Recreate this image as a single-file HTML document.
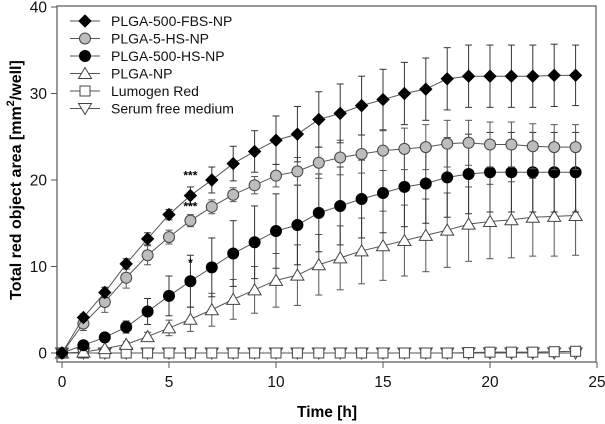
<!DOCTYPE html>
<html><head><meta charset="utf-8"><style>
body{margin:0;background:#fff}
svg{display:block;font-family:"Liberation Sans",Arial,sans-serif}
</style></head><body>
<svg id="c" width="605" height="424"></svg>
<script>
const times=[0,1,2,3,4,5,6,7,8,9,10,11,12,13,14,15,16,17,18,19,20,21,22,23,24];
const fbs=[0,4.1,7,10.3,13.2,16,18.2,20,21.9,23.3,24.6,25.3,27,27.7,28.6,29.3,30,30.5,31.7,32,32,32,32,32.1,32.1];
const fbsErr=[0,0.4,0.6,0.6,0.7,0.6,1,1.5,2,2.4,2.8,3.2,3.2,3.4,3.4,3.5,3.6,3.6,3.6,3.6,3.6,3.6,3.6,3.6,3.5];
const hs5=[0,3.4,5.9,8.7,11.3,13.4,15.3,16.9,18.3,19.4,20.5,21,22,22.6,23,23.4,23.6,23.8,24.2,24.3,24.1,24.1,23.9,23.8,23.8];
const hs5Err=[0,0.8,1.2,1.2,1.1,0.8,0.7,0.8,0.8,1,1.3,1.6,1.8,2,2.2,2.3,2.4,2.6,2.7,2.6,2.6,2.6,2.6,2.6,2.6];
const hs500=[0,0.9,1.8,3,4.8,6.6,8.3,9.9,11.5,12.8,14.1,14.8,16.2,17,17.8,18.5,19.2,19.6,20.3,20.7,20.9,20.9,20.9,20.9,20.9];
const hs500Err=[0,0.3,0.5,0.7,1.5,2.3,3,3.4,3.8,4.2,4.3,4.6,4.5,4.5,4.5,4.6,4.6,4.6,4.6,4.6,4.6,4.6,4.6,4.6,4.6];
const plga=[0,0.1,0.5,1,1.9,2.9,3.9,5,6.2,7.3,8.4,9,10.2,11,11.8,12.4,13,13.6,14.2,14.9,15.2,15.4,15.7,15.8,15.9];
const plgaErr=[0,0.1,0.2,0.3,0.5,0.9,1.4,1.9,2.3,2.7,3.1,3.5,3.5,3.7,3.8,4,4.1,4.2,4.3,4.3,4.3,4.4,4.5,4.6,4.6];
const lumo=[0,0,0,0,0,0,0,0,0,0,0,0,0,0,0,0,0,0,0,0.05,0.1,0.1,0.1,0.15,0.2];
const serum=[0,0,0,0,0,0,0,0,0,0,0,0,0,0,0,0,0,0,0,0,0,0,0,0,0];
const xTicks=[0,5,10,15,20,25];
const yTicks=[0,10,20,30,40];
const legendNames=["PLGA-500-FBS-NP","PLGA-5-HS-NP","PLGA-500-HS-NP","PLGA-NP","Lumogen Red","Serum free medium"];

const NS="http://www.w3.org/2000/svg";
const svg=document.getElementById('c');
const X=v=>62+v*21.4;
const Y=v=>353-v*8.65;
function mk(t,a,p){const e=document.createElementNS(NS,t);for(const k in a)e.setAttribute(k,a[k]);(p||svg).appendChild(e);return e;}
function marker(kind,x,y,g){
  if(kind==='diamond')return mk('polygon',{points:`${x},${y-6} ${x+6},${y} ${x},${y+6} ${x-6},${y}`,fill:'#000',stroke:'#000'},g);
  if(kind==='grey')return mk('circle',{cx:x,cy:y,r:5.5,fill:'#bdbdbd',stroke:'#444'},g);
  if(kind==='black')return mk('circle',{cx:x,cy:y,r:5.5,fill:'#000',stroke:'#000'},g);
  if(kind==='tri')return mk('polygon',{points:`${x},${y-6} ${x+6.5},${y+5} ${x-6.5},${y+5}`,fill:'#fff',stroke:'#444'},g);
  if(kind==='sq')return mk('rect',{x:x-5,y:y-5,width:10,height:10,fill:'#fff',stroke:'#444'},g);
  if(kind==='dtri')return mk('polygon',{points:`${x},${y+6} ${x+6.5},${y-5} ${x-6.5},${y-5}`,fill:'#fff',stroke:'#444'},g);
}
const frame=mk('rect',{x:57,y:6,width:539,height:356,fill:'none',stroke:'#555','stroke-width':1.2});

xTicks.forEach(t=>{
  mk('line',{x1:X(t),x2:X(t),y1:362,y2:368,stroke:'#555'});
  const tx=mk('text',{x:X(t),y:387,'text-anchor':'middle','font-size':15.5,fill:'#111'});tx.textContent=t;
  
});
yTicks.forEach(t=>{
  mk('line',{x1:51,x2:57,y1:Y(t),y2:Y(t),stroke:'#555'});
  const tx=mk('text',{x:47,y:Y(t)+5.5,'text-anchor':'end','font-size':15.5,fill:'#111'});tx.textContent=t;
  
});
const xt=mk('text',{x:327,y:417,'text-anchor':'middle','font-size':15.5,'font-weight':'bold'});xt.textContent='Time [h]';

const yt=mk('text',{transform:'translate(21,180) rotate(-90)','text-anchor':'middle','font-size':16,'font-weight':'bold'});
yt.innerHTML='Total red object area [mm<tspan dy="-7" font-size="11">2</tspan><tspan dy="7">/well]</tspan>';


const series=[[serum,null,'dtri','#666'],[lumo,null,'sq','#666'],[plga,plgaErr,'tri','#555'],[hs500,hs500Err,'black','#333'],[hs5,hs5Err,'grey','#555'],[fbs,fbsErr,'diamond','#333']];
const names=['series-serum-free','series-lumogen-red','series-plga-np','series-plga-500-hs-np','series-plga-5-hs-np','series-plga-500-fbs-np'];
series.forEach((s,i)=>{
  const g=mk('g',{});
  
  const [vals,err,kind,col]=s;
  if(err)vals.forEach((v,j)=>{if(!err[j])return;const x=X(times[j]);
    mk('line',{x1:x,x2:x,y1:Y(v-err[j]),y2:Y(v+err[j]),stroke:col},g);
    mk('line',{x1:x-3.5,x2:x+3.5,y1:Y(v+err[j]),y2:Y(v+err[j]),stroke:col},g);
    mk('line',{x1:x-3.5,x2:x+3.5,y1:Y(v-err[j]),y2:Y(v-err[j]),stroke:col},g);});
  mk('polyline',{points:vals.map((v,j)=>X(times[j])+','+Y(v)).join(' '),fill:'none',stroke:'#555'},g);
  vals.forEach((v,j)=>marker(kind,X(times[j]),Y(v),g));
});
[[fbs[6]+fbsErr[6]+1.2,'***'],[hs5[6]+1.5,'***'],[hs500[6]+2,'*']].forEach(a=>{
  const t=mk('text',{x:X(6),y:Y(a[0])+3,'text-anchor':'middle','font-size':12,'font-weight':'bold'});t.textContent=a[1];
  
});
const kinds=['diamond','grey','black','tri','sq','dtri'];
legendNames.forEach((n,i)=>{
  const g=mk('g',{});
  
  const y=21+i*17.5;
  mk('line',{x1:70,x2:100,y1:y,y2:y,stroke:'#555'},g);
  marker(kinds[i],85,y,g);
  const t=mk('text',{x:111,y:y+5,'font-size':14,fill:'#111'},g);t.textContent=n;
});
</script>
</body></html>
